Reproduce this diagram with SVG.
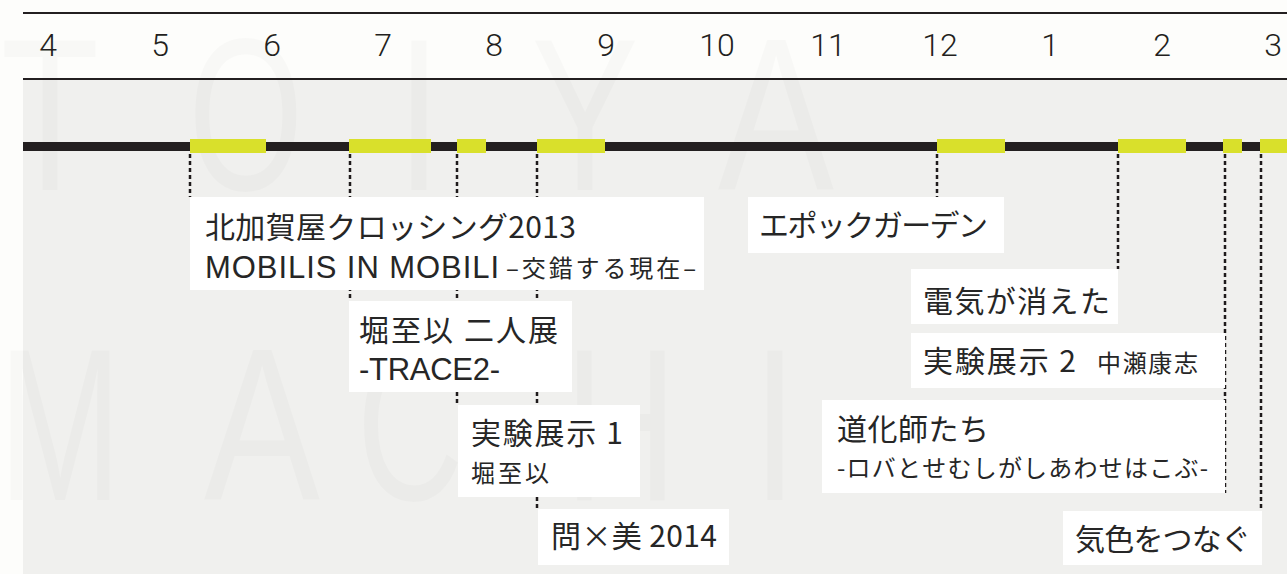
<svg xmlns="http://www.w3.org/2000/svg" width="1287" height="574" viewBox="0 0 1287 574">
<defs>
<style>
.month{font-family:Roboto,"Liberation Sans",sans-serif;font-weight:300;font-size:32px;fill:#231f20;text-anchor:middle}
.wm{font-family:"Liberation Sans",Arial,sans-serif;font-size:218px;fill:#000;fill-opacity:0.02;text-anchor:middle}
.box{fill:#ffffff}
.lbl{font-family:"Noto Sans CJK JP","Noto Sans",sans-serif;font-size:30px;fill:#262626}
.lat{font-family:"Liberation Sans",Arial,"Noto Sans CJK JP",sans-serif;font-size:31px}
.sm{font-size:24px}
.conn{stroke:#1e1a1b;stroke-width:2.5;stroke-dasharray:4 3;fill:none}
.rule{stroke:#231f20;stroke-width:2}
.seg{fill:#d9e02b}
</style>
</defs>
<rect x="0" y="0" width="1287" height="574" fill="#fdfdfb"/>
<rect x="23" y="79" width="1264" height="495" fill="#f0f0ee"/>
<g id="watermark">
<text class="wm" transform="translate(50,190) scale(0.74,1)">T</text>
<text class="wm" transform="translate(246,190) scale(0.68,1)">O</text>
<text class="wm" transform="translate(419,190) scale(0.74,1)">I</text>
<text class="wm" transform="translate(585,190) scale(0.74,1)">Y</text>
<text class="wm" transform="translate(776,190) scale(0.8,1)">A</text>
<text class="wm" transform="translate(60,500) scale(0.68,1)">M</text>
<text class="wm" transform="translate(262,500) scale(0.8,1)">A</text>
<text class="wm" transform="translate(410,500) scale(0.68,1)">C</text>
<text class="wm" transform="translate(621,500) scale(0.72,1)">H</text>
<text class="wm" transform="translate(775,500) scale(0.74,1)">I</text>
</g>
<g id="header">
<line class="rule" x1="23" y1="13" x2="1287" y2="13"/>
<line class="rule" x1="23" y1="79" x2="1287" y2="79"/>
<text class="month" x="48" y="56">4</text>
<text class="month" x="160" y="56">5</text>
<text class="month" x="272" y="56">6</text>
<text class="month" x="383" y="56">7</text>
<text class="month" x="494" y="56">8</text>
<text class="month" x="606" y="56">9</text>
<text class="month" x="717" y="56">10</text>
<text class="month" x="828" y="56">11</text>
<text class="month" x="940" y="56">12</text>
<text class="month" x="1050" y="56">1</text>
<text class="month" x="1162" y="56">2</text>
<text class="month" x="1273" y="56">3</text>
</g>
<g id="timeline">
<rect x="23" y="142" width="1264" height="9" fill="#231f20"/>
<rect class="seg" x="190" y="139" width="76" height="14"/>
<rect class="seg" x="349" y="139" width="82" height="14"/>
<rect class="seg" x="457" y="139" width="29" height="14"/>
<rect class="seg" x="537" y="139" width="68" height="14"/>
<rect class="seg" x="937" y="139" width="68" height="14"/>
<rect class="seg" x="1118" y="139" width="68" height="14"/>
<rect class="seg" x="1223" y="139" width="19" height="14"/>
<rect class="seg" x="1260" y="139" width="27" height="14"/>
</g>
<g id="connectors">
<line class="conn" x1="190" y1="154" x2="190" y2="197"/>
<line class="conn" x1="350" y1="154" x2="350" y2="301"/>
<line class="conn" x1="457" y1="154" x2="457" y2="405"/>
<line class="conn" x1="537" y1="154" x2="537" y2="509"/>
<line class="conn" x1="937" y1="154" x2="937" y2="197"/>
<line class="conn" x1="1118" y1="154" x2="1118" y2="269"/>
<line class="conn" x1="1225" y1="154" x2="1225" y2="493"/>
<line class="conn" x1="1261" y1="154" x2="1261" y2="511"/>
</g>
<g id="kitakagaya">
<rect class="box" x="190" y="197" width="514" height="93"/>
<text class="lbl" x="205" y="238" textLength="371">北加賀屋クロッシング2013</text>
<text class="lbl lat" x="205" y="278" textLength="294">MOBILIS IN MOBILI</text>
<text class="lbl sm" x="506" y="277" textLength="190">–交錯する現在–</text>
</g>
<g id="hori-duo">
<rect class="box" x="349" y="301" width="223" height="91"/>
<text class="lbl" x="359" y="341" textLength="199">堀至以 二人展</text>
<text class="lbl lat" x="359" y="380" textLength="141">-TRACE2-</text>
</g>
<g id="experiment1">
<rect class="box" x="458" y="405" width="182" height="92"/>
<text class="lbl" x="471" y="444" textLength="152">実験展示 1</text>
<text class="lbl sm" x="471" y="482" textLength="78">堀至以</text>
</g>
<g id="tonbi2014">
<rect class="box" x="538" y="509" width="191" height="56"/>
<text class="lbl" x="551" y="547" textLength="166">問×美 2014</text>
</g>
<g id="epoch-garden">
<rect class="box" x="748" y="197" width="256" height="56"/>
<text class="lbl" x="759" y="236" textLength="229">エポックガーデン</text>
</g>
<g id="denki">
<rect class="box" x="911" y="269" width="207" height="55"/>
<text class="lbl" x="923" y="312" textLength="187">電気が消えた</text>
</g>
<g id="experiment2">
<rect class="box" x="911" y="333" width="314" height="55"/>
<text class="lbl" x="923" y="372" textLength="153">実験展示 2</text>
<text class="lbl sm" x="1097" y="372" textLength="101">中瀬康志</text>
</g>
<g id="doukeshi">
<rect class="box" x="822" y="400" width="403" height="93"/>
<text class="lbl" x="837" y="440" textLength="152">道化師たち</text>
<text class="lbl sm" x="837" y="477" textLength="371">-ロバとせむしがしあわせはこぶ-</text>
</g>
<g id="keshiki">
<rect class="box" x="1063" y="511" width="199" height="54"/>
<text class="lbl" x="1075" y="550" textLength="176">気色をつなぐ</text>
</g>
</svg>
